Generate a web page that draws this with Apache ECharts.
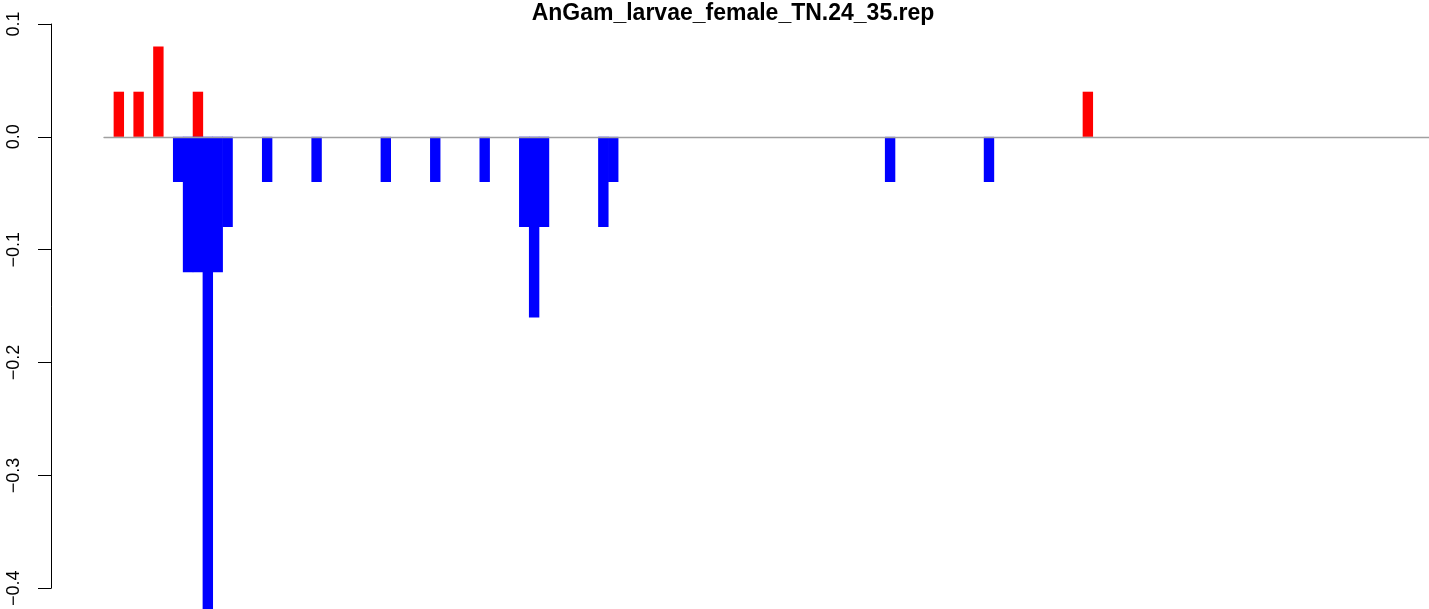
<!DOCTYPE html>
<html>
<head>
<meta charset="utf-8">
<script src="https://cdn.jsdelivr.net/npm/echarts@6/dist/echarts.min.js"></script>
<style>
html,body{margin:0;padding:0;background:#fff;}
#chart{width:1429px;height:609px;}
</style>
</head>
<body>
<div id="chart"></div>
<script>
// bin categories (positions along the x axis)
const binCount = 134;
const categories = Array.from({length: binCount}, (_, i) => String(i));
// gains (red)
const gainPos = [1, 3, 5, 9, 99];
const gainVal = [0.04, 0.04, 0.08, 0.04, 0.04];
// losses (blue)
const lossPos = [7, 8, 9, 10, 11, 12, 16, 21, 28, 33, 38, 42, 43, 44, 50, 51, 79, 89];
const lossVal = [-0.04, -0.12, -0.12, -0.44, -0.12, -0.08, -0.04, -0.04, -0.04, -0.04, -0.04, -0.08, -0.16, -0.08, -0.08, -0.04, -0.04, -0.04];
// y tick labels
const yTicks = [0.1, 0.0, -0.1, -0.2, -0.3, -0.4];

const titleText = 'AnGam_larvae_female_TN.24_35.rep';

const chart = echarts.init(document.getElementById('chart'), null, {renderer: 'canvas'});
const option = {
  animation: false,
  backgroundColor: '#ffffff',
  title: {
    text: titleText,
    left: 733,
    top: 2,
    padding: 0,
    textAlign: 'center',
    textStyle: {fontFamily: 'Liberation Sans, Arial, sans-serif', fontWeight: 'bold', fontSize: 23, color: '#000'}
  },
  grid: {left: 104, right: -3, top: 24, bottom: 16, containLabel: false},
  xAxis: {
    type: 'category',
    data: categories,
    z: 10,
    axisLine: {show: true, onZero: true, lineStyle: {color: '#a0a0a0', width: 1.3}},
    axisTick: {show: false},
    axisLabel: {show: false},
    splitLine: {show: false}
  },
  yAxis: {
    type: 'value',
    min: -0.4,
    max: 0.1,
    interval: 0.1,
    offset: 53,
    axisLine: {show: true, lineStyle: {color: '#000', width: 1}},
    axisTick: {show: true, length: 13, lineStyle: {color: '#000', width: 1}},
    splitLine: {show: false},
    axisLabel: {
      rotate: 90,
      margin: 28,
      fontFamily: 'Liberation Sans, Arial, sans-serif',
      fontSize: 18,
      color: '#000',
      formatter: function (v) {
        const t = yTicks.find(x => Math.abs(x - v) < 1e-9);
        if (t === undefined) return '';
        return t.toFixed(1).replace('-', '\u2212');
      }
    }
  },
  series: [
    {
      name: 'gain',
      type: 'bar',
      clip: false,
      barGap: '-100%',
      barWidth: 10.4,
      itemStyle: {color: '#ff0000'},
      data: gainPos.map((p, i) => [p, gainVal[i]])
    },
    {
      name: 'loss',
      type: 'bar',
      clip: false,
      barGap: '-100%',
      barWidth: 10.4,
      itemStyle: {color: '#0000ff'},
      data: lossPos.map((p, i) => [p, lossVal[i]])
    }
  ]
};
chart.setOption(option);
</script>
</body>
</html>
